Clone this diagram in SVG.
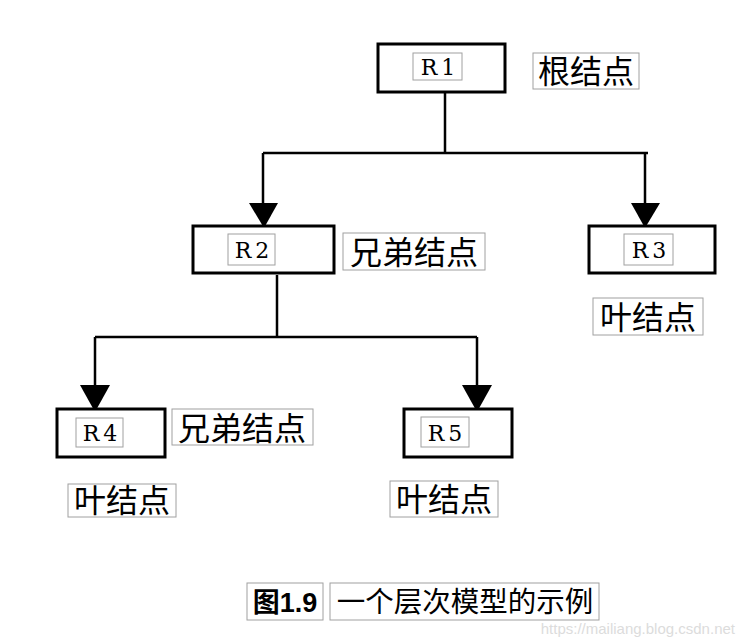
<svg xmlns="http://www.w3.org/2000/svg" width="744" height="644" viewBox="0 0 744 644">
<defs>
<style>
.node{fill:#fff;stroke:#000;stroke-width:3}
.tb{fill:none;stroke:#a0a0a0;stroke-width:1}
.rt{font-family:"DejaVu Serif","Liberation Serif",serif;font-size:22px;fill:#000;text-anchor:middle;letter-spacing:4px}
.cj{font-family:"Noto Sans CJK SC","Liberation Sans",sans-serif;font-size:32px;fill:#000;text-anchor:middle}
.ln{fill:none;stroke:#000;stroke-width:2.5}
.ah{fill:#000}
</style>
</defs>
<rect width="744" height="644" fill="#fff"/>
<g id="connectors">
<path class="ln" d="M445,93 V153 M263,153 H648 M263,153 V210 M645,153 V210"/>
<polygon class="ah" points="249,203 278,203 264,228"/>
<polygon class="ah" points="631,203 660,203 645,228"/>
<path class="ln" d="M277,275 V337 M95,337 H477 M95,337 V390 M477,337 V390"/>
<polygon class="ah" points="80,385 110,385 95,412"/>
<polygon class="ah" points="462,385 492,385 477,412"/>
</g>
<g id="R1">
<rect class="node" x="378" y="44" width="127" height="48"/>
<rect class="tb" x="413" y="53" width="49" height="27"/>
<text class="rt" x="440" y="75">R1</text>
</g>
<g id="label-root">
<rect class="tb" x="533" y="53" width="106" height="36"/>
<text class="cj" x="586" y="83">根结点</text>
</g>
<g id="R2">
<rect class="node" x="193" y="226" width="141" height="47"/>
<rect class="tb" x="228" y="234" width="47" height="31"/>
<text class="rt" x="254" y="258">R2</text>
</g>
<g id="label-sibling1">
<rect class="tb" x="343" y="233" width="142" height="37"/>
<text class="cj" x="414" y="264">兄弟结点</text>
</g>
<g id="R3">
<rect class="node" x="589" y="226" width="126" height="47"/>
<rect class="tb" x="624" y="234" width="49" height="31"/>
<text class="rt" x="651" y="258">R3</text>
</g>
<g id="label-leaf1">
<rect class="tb" x="593" y="298" width="110" height="37"/>
<text class="cj" x="648" y="329">叶结点</text>
</g>
<g id="R4">
<rect class="node" x="57" y="409" width="108" height="48"/>
<rect class="tb" x="76" y="418" width="47" height="29"/>
<text class="rt" x="102" y="441">R4</text>
</g>
<g id="label-sibling2">
<rect class="tb" x="172" y="409" width="141" height="36"/>
<text class="cj" x="242" y="440">兄弟结点</text>
</g>
<g id="label-leaf2">
<rect class="tb" x="68" y="484" width="108" height="33"/>
<text class="cj" x="122" y="512">叶结点</text>
</g>
<g id="R5">
<rect class="node" x="404" y="409" width="108" height="48"/>
<rect class="tb" x="421" y="417" width="48" height="30"/>
<text class="rt" x="447" y="441">R5</text>
</g>
<g id="label-leaf3">
<rect class="tb" x="390" y="481" width="108" height="36"/>
<text class="cj" x="444" y="511">叶结点</text>
</g>
<g id="caption">
<rect class="tb" x="247" y="583" width="76" height="37"/>
<text x="285" y="612" font-family="Noto Sans CJK SC,Liberation Sans,sans-serif" font-size="27" font-weight="bold" text-anchor="middle" fill="#000">图<tspan font-family="Liberation Sans,sans-serif">1.9</tspan></text>
<rect class="tb" x="330" y="583" width="269" height="37"/>
<text x="465" y="612" font-family="Noto Sans CJK SC,Liberation Sans,sans-serif" font-size="28.5" text-anchor="middle" fill="#000">一个层次模型的示例</text>
</g>
<text x="735" y="634" font-family="Liberation Sans,Arial,sans-serif" font-size="15" text-anchor="end" fill="#dcdcdc">https://mailiang.blog.csdn.net</text>
</svg>
